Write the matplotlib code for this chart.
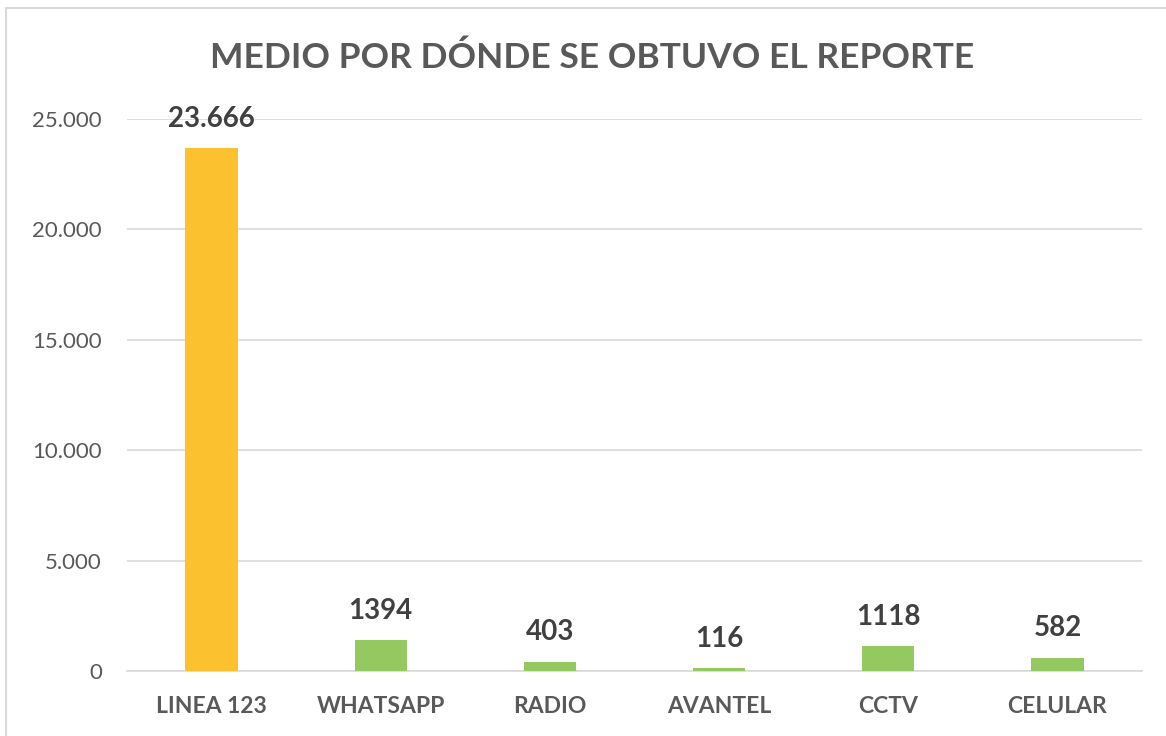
import matplotlib.pyplot as plt

# datos del grafico
categorias = ['LINEA 123', 'WHATSAPP', 'RADIO', 'AVANTEL', 'CCTV', 'CELULAR']
valores = [23666, 1394, 403, 116, 1118, 582]
etiquetas = ['23.666', '1394', '403', '116', '1118', '582']
colores = ['#FCC12E', '#94C962', '#94C962', '#94C962', '#94C962', '#94C962']
y_ticks = [0, 5000, 10000, 15000, 20000, 25000]
y_labels = ['0', '5.000', '10.000', '15.000', '20.000', '25.000']

plt.rcParams['font.family'] = ['Lato', 'DejaVu Sans']

fig = plt.figure(figsize=(11.66, 7.36), dpi=100)
# borde gris del area del grafico
fig.patches.append(plt.Rectangle((6 / 1166, -0.01), 1.2, 1 - 8 / 736 + 0.01,
                                 transform=fig.transFigure, fill=False,
                                 edgecolor='#D9D9D9', linewidth=1.5))

ax = fig.add_axes([127 / 1166, 1 - 671 / 736, (1142 - 127) / 1166, (671 - 119) / 736])
x = list(range(len(categorias)))
barras = ax.bar(x, valores, width=0.31, color=colores, zorder=3)

ax.set_xlim(-0.5, len(categorias) - 0.5)
ax.set_ylim(0, 25000)
ax.set_yticks(y_ticks)
ax.set_yticklabels(y_labels, fontsize=16, color='#595959')
ax.set_xticks(x)
ax.set_xticklabels(categorias, fontsize=16.5, fontweight='bold', color='#595959')
ax.tick_params(axis='both', length=0)
ax.tick_params(axis='y', pad=18)
ax.tick_params(axis='x', pad=18)

ax.grid(axis='y', color='#D9D9D9', linewidth=1.2, zorder=0)
for lado in ['top', 'right', 'left']:
    ax.spines[lado].set_visible(False)
ax.spines['bottom'].set_color('#D9D9D9')
ax.spines['bottom'].set_linewidth(1.2)

for xi, v, txt in zip(x, valores, etiquetas):
    ax.annotate(txt, (xi, v), xytext=(0, 12), textcoords='offset points',
                ha='center', va='bottom', fontsize=20, fontweight='bold',
                color='#404040')

fig.text(592 / 1166, 1 - 58 / 736, 'MEDIO POR DÓNDE SE OBTUVO EL REPORTE',
         ha='center', va='center', fontsize=25.5, fontweight='bold', color='#595959')

fig.savefig('out.png', dpi=100)
